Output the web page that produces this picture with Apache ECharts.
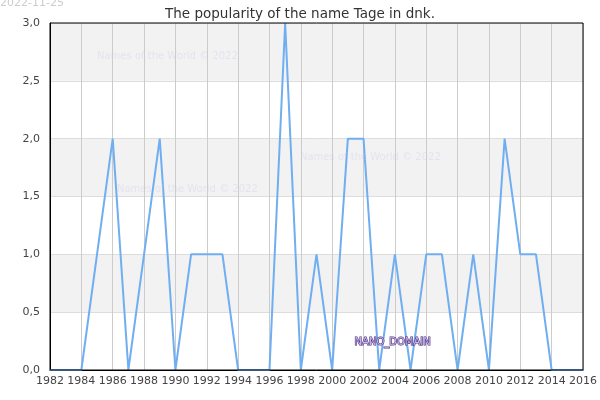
<!DOCTYPE html>
<html>
<head>
<meta charset="utf-8">
<script src="https://cdn.jsdelivr.net/npm/echarts@6/dist/echarts.min.js"></script>
<style>html,body{margin:0;padding:0;background:#fff}#c{width:600px;height:400px}</style>
</head>
<body>
<div id="c"></div>
<script>
const years = [1982,1983,1984,1985,1986,1987,1988,1989,1990,1991,1992,1993,1994,1995,1996,1997,1998,1999,2000,2001,2002,2003,2004,2005,2006,2007,2008,2009,2010,2011,2012,2013,2014,2015,2016];
const counts = [0,0,0,1,2,0,1,2,0,1,1,1,0,0,0,3,0,1,0,2,2,0,1,0,1,1,0,1,0,2,1,1,0,0,0];
const titleText = 'The popularity of the name Tage in dnk.';
const dateText = '2022-11-25';
const watermark = 'Names of the World © 2022';

const chart = echarts.init(document.getElementById('c'), null, {renderer:'canvas'});
const font = 'DejaVu Sans';
chart.setOption({
  animation: false,
  backgroundColor: '#fff',
  title: {text: titleText, left: 'center', top: 2, textStyle: {fontFamily: font, fontSize: 13.5, fontWeight: 'normal', color: '#333'}},
  grid: {left: 50, right: 14, top: 23, bottom: 30, show: true, borderColor: '#000', borderWidth: 1, backgroundColor: 'transparent', z: 10},
  xAxis: {
    type: 'value', min: 1982, max: 2016, interval: 2,
    axisLine: {show: true, lineStyle: {color: '#000', width: 1}},
    axisTick: {show: false},
    axisLabel: {fontFamily: font, fontSize: 11, color: '#444', margin: 6, formatter: v => String(v)},
    splitLine: {show: true, lineStyle: {color: '#ccc', width: 1}}
  },
  yAxis: {
    type: 'value', min: 0, max: 3, interval: 0.5,
    axisLine: {show: true, lineStyle: {color: '#000', width: 1}},
    axisTick: {show: false},
    axisLabel: {fontFamily: font, fontSize: 11, color: '#444', margin: 10, formatter: v => v.toFixed(1).replace('.', ',')},
    splitLine: {show: true, lineStyle: {color: '#ddd', width: 1}},
    splitArea: {show: true, areaStyle: {color: ['#ffffff', '#f2f2f2']}}
  },
  series: [{
    type: 'line',
    data: years.map((y, i) => [y, counts[i]]),
    symbol: 'none',
    lineStyle: {color: '#70aef2', width: 2},
    z: 5
  }],
  graphic: [
    {type: 'text', left: 0, top: -2, style: {text: dateText, font: '11px DejaVu Sans', fill: '#ccc'}},
    {type: 'text', left: 97, top: 51, z: 20, style: {text: watermark, font: '10px DejaVu Sans', fill: 'rgba(200,200,235,0.35)'}},
    {type: 'text', left: 300, top: 152, z: 20, style: {text: watermark, font: '10px DejaVu Sans', fill: 'rgba(200,200,235,0.35)'}},
    {type: 'text', left: 117, top: 184, z: 20, style: {text: watermark, font: '10px DejaVu Sans', fill: 'rgba(200,200,235,0.35)'}},
    {type: 'text', left: 354, top: 337, z: 20, style: {text: 'NANO_DOMAIN', font: '10px DejaVu Sans', fill: '#c8b8ec', stroke: '#4a2d7a', lineWidth: 1.2}}
  ]
});
</script>
</body>
</html>
